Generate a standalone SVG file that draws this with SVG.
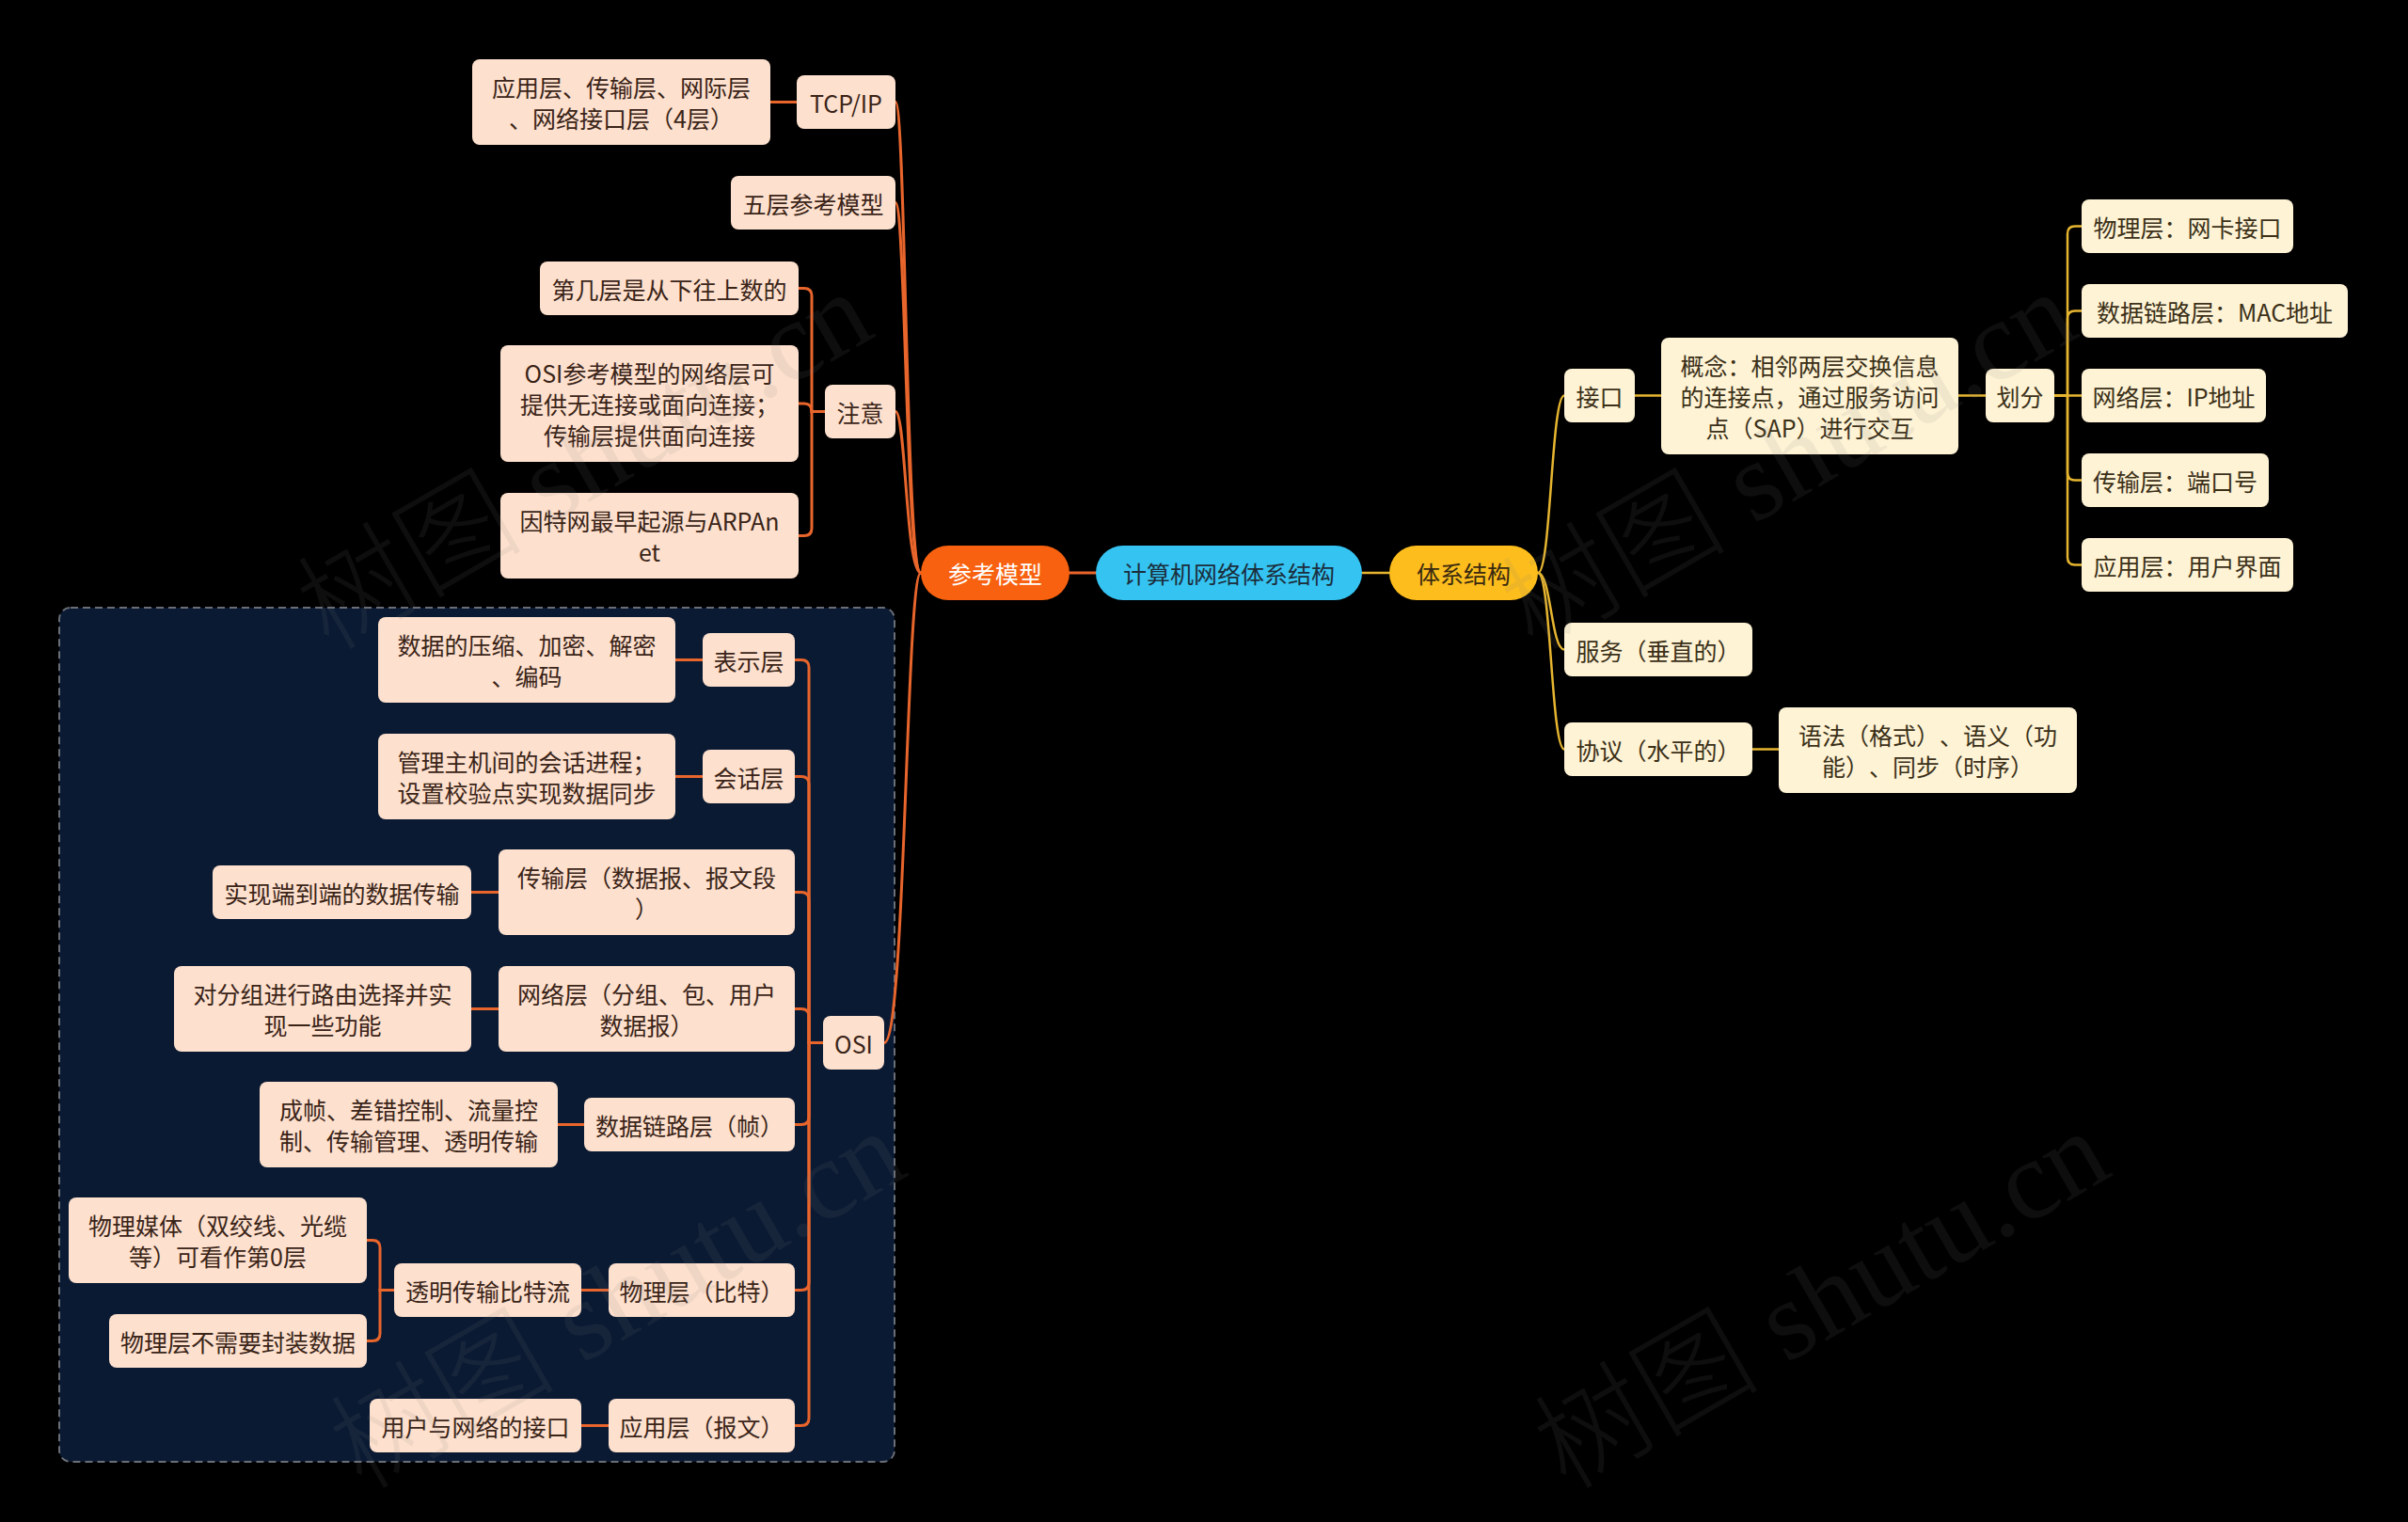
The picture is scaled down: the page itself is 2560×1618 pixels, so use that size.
<svg xmlns="http://www.w3.org/2000/svg" width="2560" height="1618" viewBox="0 0 2560 1618">
<style>
.t{font-family:"Noto Sans CJK SC","Noto Sans",sans-serif;font-size:25px;text-anchor:middle;dominant-baseline:central;text-spacing-trim:space-all}
.p rect{fill:#FDE0CD;stroke:none}
.p text{fill:#3A2418}
.c rect{fill:#FEF3D5;stroke:none}
.c text{fill:#3B3018}
.lo{fill:none;stroke:#E8652C;stroke-width:3;stroke-linecap:round}
.ly{fill:none;stroke:#E6B530;stroke-width:2.5;stroke-linecap:round}
.wm{font-family:"Liberation Serif","Noto Sans CJK SC",serif;font-size:120px;font-weight:300;fill:#808080;fill-opacity:0.11}
</style>
<rect x="0" y="0" width="2560" height="1618" fill="#000000"/>
<rect id="osi-region" x="63" y="646" width="888" height="908" rx="12" fill="#0B1A33" stroke="#6A6E76" stroke-width="2" stroke-dasharray="8 5"/>
<g id="connectors">
<path class="lo" d="M1137 609H1165"/>
<path class="ly" d="M1448 609H1477"/>
<path class="lo" d="M979 609C963 609 963 108.5 952 108.5"/>
<path class="lo" d="M979 609C963 609 963 215.5 952 215.5"/>
<path class="lo" d="M979 609C963 609 963 437.5 952 437.5"/>
<path class="lo" d="M979 609C963 609 963 1108.5 940 1108.5"/>
<path class="lo" d="M847 108.5H819"/>
<path class="lo" d="M877 437.5H863V314.5Q863 306.5 855 306.5H849"/>
<path class="lo" d="M877 437.5H863Q863 429 855 429H849"/>
<path class="lo" d="M877 437.5H863V561.5Q863 569.5 855 569.5H849"/>
<path class="lo" d="M875 1108.5H860V709.5Q860 701.5 852 701.5H845"/>
<path class="lo" d="M875 1108.5H860V833.5Q860 825.5 852 825.5H845"/>
<path class="lo" d="M875 1108.5H860V956.5Q860 948.5 852 948.5H845"/>
<path class="lo" d="M875 1108.5H860V1080.5Q860 1072.5 852 1072.5H845"/>
<path class="lo" d="M875 1108.5H860V1187.5Q860 1195.5 852 1195.5H845"/>
<path class="lo" d="M875 1108.5H860V1363.5Q860 1371.5 852 1371.5H845"/>
<path class="lo" d="M875 1108.5H860V1507.5Q860 1515.5 852 1515.5H845"/>
<path class="lo" d="M747 701.5H718"/>
<path class="lo" d="M747 825.5H718"/>
<path class="lo" d="M530 948.5H501"/>
<path class="lo" d="M530 1072.5H501"/>
<path class="lo" d="M621 1195.5H593"/>
<path class="lo" d="M647 1371.5H618"/>
<path class="lo" d="M647 1515.5H618"/>
<path class="lo" d="M419 1371.5H404V1326.5Q404 1318.5 396 1318.5H390"/>
<path class="lo" d="M419 1371.5H404V1417.5Q404 1425.5 396 1425.5H390"/>
<path class="ly" d="M1635 609C1649 609 1649 420.5 1663 420.5"/>
<path class="ly" d="M1635 609C1649 609 1649 690.5 1663 690.5"/>
<path class="ly" d="M1635 609C1649 609 1649 796.5 1663 796.5"/>
<path class="ly" d="M1738 420.5H1766"/>
<path class="ly" d="M2082 420.5H2111"/>
<path class="ly" d="M1863 796.5H1891"/>
<path class="ly" d="M2184 420.5H2198V248.5Q2198 240.5 2206 240.5H2213"/>
<path class="ly" d="M2184 420.5H2198V338.5Q2198 330.5 2206 330.5H2213"/>
<path class="ly" d="M2184 420.5H2213"/>
<path class="ly" d="M2184 420.5H2198V502.5Q2198 510.5 2206 510.5H2213"/>
<path class="ly" d="M2184 420.5H2198V592.5Q2198 600.5 2206 600.5H2213"/>
</g>
<g id="center"><rect x="1165" y="580" width="283" height="58" rx="29" fill="#35C3F1"/><text class="t" x="1306.5" y="609" fill="#1B2E3C">计算机网络体系结构</text></g>
<g id="ref-model"><rect x="979" y="580" width="158" height="58" rx="29" fill="#F8610F"/><text class="t" x="1058" y="609" fill="#FFFFFF">参考模型</text></g>
<g id="arch"><rect x="1477" y="580" width="158" height="58" rx="29" fill="#FCBD1D"/><text class="t" x="1556" y="609" fill="#3A2A10">体系结构</text></g>

<g id="tcpip-desc" class="p"><rect x="502" y="63" width="317" height="91" rx="8"/><text class="t" x="660.5" y="92">应用层、传输层、网际层</text><text class="t" x="660.5" y="125">、网络接口层（4层）</text></g>
<g id="tcpip" class="p"><rect x="847" y="80" width="105" height="57" rx="8"/><text class="t" x="899.5" y="108.5">TCP/IP</text></g>
<g id="five" class="p"><rect x="777" y="187" width="175" height="57" rx="8"/><text class="t" x="864.5" y="215.5">五层参考模型</text></g>
<g id="note" class="p"><rect x="877" y="409" width="75" height="57" rx="8"/><text class="t" x="914.5" y="437.5">注意</text></g>
<g id="note1" class="p"><rect x="574" y="278" width="275" height="57" rx="8"/><text class="t" x="711.5" y="306.5">第几层是从下往上数的</text></g>
<g id="note2" class="p"><rect x="532" y="367" width="317" height="124" rx="8"/><text class="t" x="690.5" y="396">OSI参考模型的网络层可</text><text class="t" x="690.5" y="429">提供无连接或面向连接；</text><text class="t" x="690.5" y="462">传输层提供面向连接</text></g>
<g id="note3" class="p"><rect x="532" y="524" width="317" height="91" rx="8"/><text class="t" x="690.5" y="553">因特网最早起源与ARPAn</text><text class="t" x="690.5" y="586">et</text></g>
<g id="osi" class="p"><rect x="875" y="1080" width="65" height="57" rx="8"/><text class="t" x="907.5" y="1108.5">OSI</text></g>
<g id="presentation" class="p"><rect x="747" y="673" width="98" height="57" rx="8"/><text class="t" x="796" y="701.5">表示层</text></g>
<g id="presentation-d" class="p"><rect x="402" y="656" width="316" height="91" rx="8"/><text class="t" x="560" y="685">数据的压缩、加密、解密</text><text class="t" x="560" y="718">、编码</text></g>
<g id="session" class="p"><rect x="747" y="797" width="98" height="57" rx="8"/><text class="t" x="796" y="825.5">会话层</text></g>
<g id="session-d" class="p"><rect x="402" y="780" width="316" height="91" rx="8"/><text class="t" x="560" y="809">管理主机间的会话进程；</text><text class="t" x="560" y="842">设置校验点实现数据同步</text></g>
<g id="transport" class="p"><rect x="530" y="903" width="315" height="91" rx="8"/><text class="t" x="687.5" y="932">传输层（数据报、报文段</text><text class="t" x="687.5" y="965">）</text></g>
<g id="transport-d" class="p"><rect x="226" y="920" width="275" height="57" rx="8"/><text class="t" x="363.5" y="948.5">实现端到端的数据传输</text></g>
<g id="network" class="p"><rect x="530" y="1027" width="315" height="91" rx="8"/><text class="t" x="687.5" y="1056">网络层（分组、包、用户</text><text class="t" x="687.5" y="1089">数据报）</text></g>
<g id="network-d" class="p"><rect x="185" y="1027" width="316" height="91" rx="8"/><text class="t" x="343" y="1056">对分组进行路由选择并实</text><text class="t" x="343" y="1089">现一些功能</text></g>
<g id="datalink" class="p"><rect x="621" y="1167" width="224" height="57" rx="8"/><text class="t" x="733" y="1195.5">数据链路层（帧）</text></g>
<g id="datalink-d" class="p"><rect x="276" y="1150" width="317" height="91" rx="8"/><text class="t" x="434.5" y="1179">成帧、差错控制、流量控</text><text class="t" x="434.5" y="1212">制、传输管理、透明传输</text></g>
<g id="physical" class="p"><rect x="647" y="1343" width="198" height="57" rx="8"/><text class="t" x="746" y="1371.5">物理层（比特）</text></g>
<g id="physical-d" class="p"><rect x="419" y="1343" width="199" height="57" rx="8"/><text class="t" x="518.5" y="1371.5">透明传输比特流</text></g>
<g id="physical-d1" class="p"><rect x="73" y="1273" width="317" height="91" rx="8"/><text class="t" x="231.5" y="1302">物理媒体（双绞线、光缆</text><text class="t" x="231.5" y="1335">等）可看作第0层</text></g>
<g id="physical-d2" class="p"><rect x="116" y="1397" width="274" height="57" rx="8"/><text class="t" x="253" y="1425.5">物理层不需要封装数据</text></g>
<g id="application" class="p"><rect x="647" y="1487" width="198" height="57" rx="8"/><text class="t" x="746" y="1515.5">应用层（报文）</text></g>
<g id="application-d" class="p"><rect x="393" y="1487" width="225" height="57" rx="8"/><text class="t" x="505.5" y="1515.5">用户与网络的接口</text></g>

<g id="interface" class="c"><rect x="1663" y="392" width="75" height="57" rx="8"/><text class="t" x="1700.5" y="420.5">接口</text></g>
<g id="concept" class="c"><rect x="1766" y="359" width="316" height="124" rx="8"/><text class="t" x="1924" y="388">概念：相邻两层交换信息</text><text class="t" x="1924" y="421">的连接点，通过服务访问</text><text class="t" x="1924" y="454">点（SAP）进行交互</text></g>
<g id="divide" class="c"><rect x="2111" y="392" width="73" height="57" rx="8"/><text class="t" x="2147.5" y="420.5">划分</text></g>
<g id="d1" class="c"><rect x="2213" y="212" width="225" height="57" rx="8"/><text class="t" x="2325.5" y="240.5">物理层：网卡接口</text></g>
<g id="d2" class="c"><rect x="2213" y="302" width="283" height="57" rx="8"/><text class="t" x="2354.5" y="330.5">数据链路层：MAC地址</text></g>
<g id="d3" class="c"><rect x="2213" y="392" width="196" height="57" rx="8"/><text class="t" x="2311" y="420.5">网络层：IP地址</text></g>
<g id="d4" class="c"><rect x="2213" y="482" width="199" height="57" rx="8"/><text class="t" x="2312.5" y="510.5">传输层：端口号</text></g>
<g id="d5" class="c"><rect x="2213" y="572" width="225" height="57" rx="8"/><text class="t" x="2325.5" y="600.5">应用层：用户界面</text></g>
<g id="service" class="c"><rect x="1663" y="662" width="200" height="57" rx="8"/><text class="t" x="1763" y="690.5">服务（垂直的）</text></g>
<g id="protocol" class="c"><rect x="1663" y="768" width="200" height="57" rx="8"/><text class="t" x="1763" y="796.5">协议（水平的）</text></g>
<g id="protocol-d" class="c"><rect x="1891" y="752" width="317" height="91" rx="8"/><text class="t" x="2049.5" y="781">语法（格式）、语义（功</text><text class="t" x="2049.5" y="814">能）、同步（时序）</text></g>

<g id="watermarks">
<text class="wm" transform="translate(350 693) rotate(-30)">树图 shutu.cn</text>
<text class="wm" transform="translate(1630 693) rotate(-30)">树图 shutu.cn</text>
<text class="wm" transform="translate(385 1585) rotate(-30)">树图 shutu.cn</text>
<text class="wm" transform="translate(1665 1585) rotate(-30)">树图 shutu.cn</text>
</g>
</svg>
